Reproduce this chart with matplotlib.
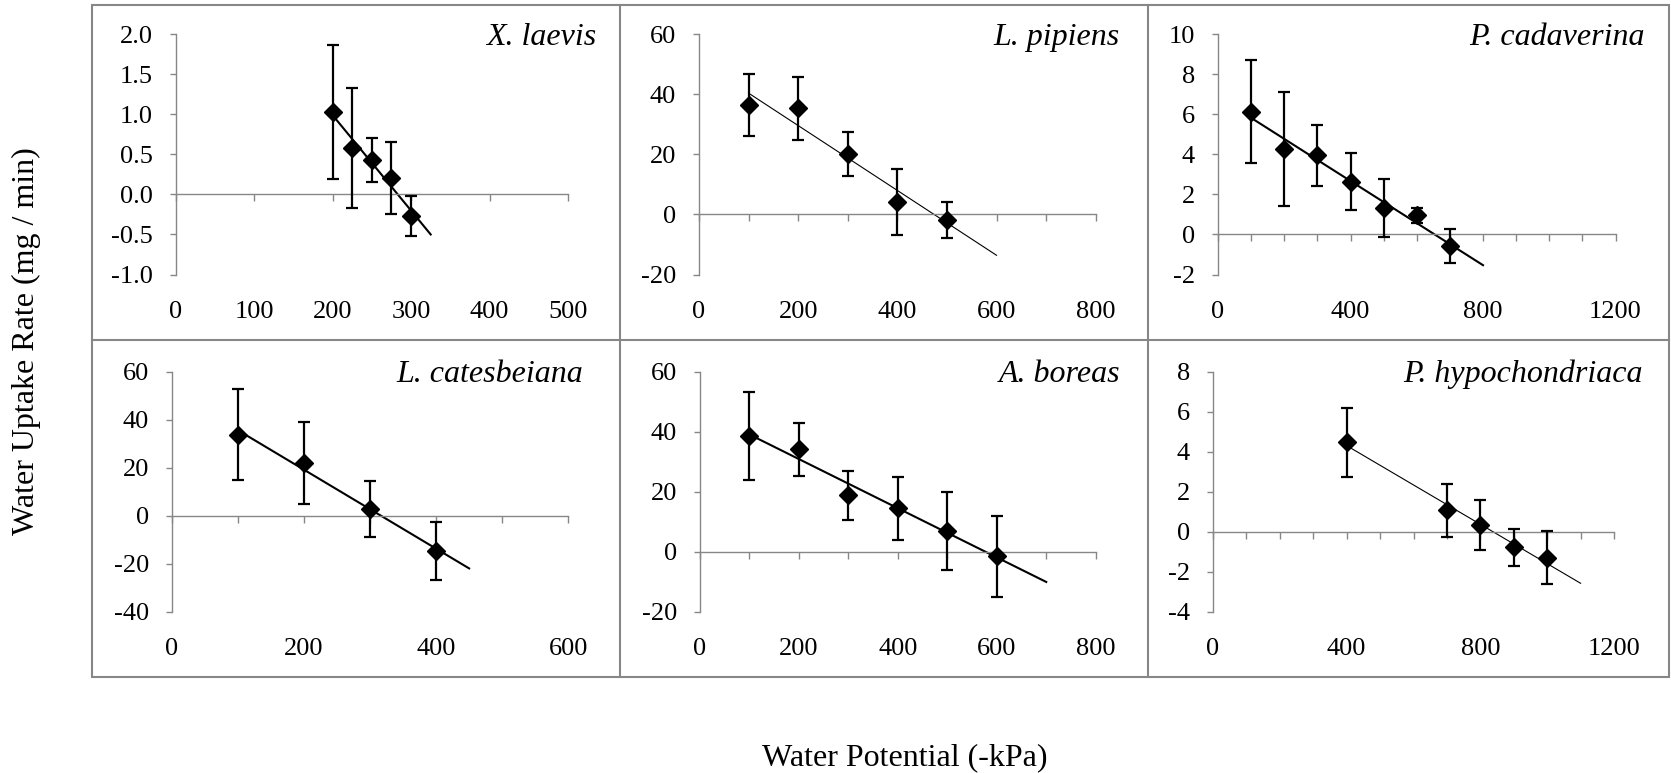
import matplotlib
matplotlib.use("Agg")
import matplotlib.pyplot as plt
from matplotlib.lines import Line2D
from matplotlib.patches import Rectangle
from matplotlib.ticker import FormatStrFormatter
import numpy as np

plt.rcParams["font.family"] = ["Liberation Serif", "DejaVu Serif"]
plt.rcParams["axes.unicode_minus"] = False

# ---- data ----
species = ["X. laevis", "L. pipiens", "P. cadaverina",
           "L. catesbeiana", "A. boreas", "P. hypochondriaca"]

xl_x = [200, 225, 250, 275, 300]
xl_y = [1.03, 0.58, 0.43, 0.20, -0.27]
xl_err = [0.84, 0.75, 0.28, 0.45, 0.25]

lp_x = [100, 200, 300, 400, 500]
lp_y = [36.4, 35.4, 20.0, 4.2, -2.0]
lp_err = [10.3, 10.5, 7.3, 11.0, 6.0]

pc_x = [100, 200, 300, 400, 500, 600, 700]
pc_y = [6.14, 4.28, 3.95, 2.64, 1.31, 0.96, -0.58]
pc_err = [2.58, 2.84, 1.52, 1.41, 1.46, 0.37, 0.85]

lc_x = [100, 200, 300, 400]
lc_y = [33.7, 22.0, 2.9, -14.8]
lc_err = [19.0, 17.1, 11.7, 12.1]

ab_x = [100, 200, 300, 400, 500, 600]
ab_y = [38.6, 34.2, 18.8, 14.5, 6.9, -1.5]
ab_err = [14.7, 8.8, 8.2, 10.5, 13.1, 13.5]

ph_x = [400, 700, 800, 900, 1000]
ph_y = [4.48, 1.08, 0.33, -0.77, -1.30]
ph_err = [1.72, 1.33, 1.24, 0.92, 1.32]

# trendline forecast end (x) for each species
trend_end = [325, 600, 800, 450, 700, 1100]

# axis ranges: (ymin, ymax, ystep), (xmax, xlabel step)
y_ranges = [(-1, 2, 0.5), (-20, 60, 20), (-2, 10, 2),
            (-40, 60, 20), (-20, 60, 20), (-4, 8, 2)]
x_ranges = [(500, 100), (800, 200), (1200, 400),
            (600, 200), (800, 200), (1200, 400)]

# ---- layout in pixels of the 1671x773 picture ----
W, H = 1671, 773
# x0, x1, ytop, ybottom of each plot area
boxes = [(175.7, 568.0, 34.3, 274.5), (699.0, 1095.7, 34.3, 274.5), (1218.0, 1615.5, 34.3, 274.5),
         (171.7, 568.3, 371.7, 611.7), (700.0, 1095.7, 371.7, 611.7), (1213.0, 1614.0, 371.7, 611.7)]
label_right = [596, 1120, 1645, 583, 1120, 1643]
trend_lw = [1.5, 0.8, 1.5, 1.5, 1.5, 0.8]
y_fmt = ["%.1f", "%d", "%d", "%d", "%d", "%d"]

GRAY = "#878787"
TICK_FS = 19
NAME_FS = 23
TITLE_FS = 23


def fx(px):
    return px / W


def fy(py):
    return 1 - py / H


def draw_panel(fig, i, x, y, err):
    x0, x1, yt, yb = boxes[i]
    ax = fig.add_axes([fx(x0), fy(yb), fx(x1) - fx(x0), fy(yt) - fy(yb)])
    ymin, ymax, ystep = y_ranges[i]
    xmax, xstep = x_ranges[i]

    ax.set_xlim(0, xmax)
    ax.set_ylim(ymin, ymax)
    ax.patch.set_visible(False)

    for s in ["top", "right"]:
        ax.spines[s].set_visible(False)
    for s in ["left", "bottom"]:
        ax.spines[s].set_color(GRAY)
        ax.spines[s].set_linewidth(1.0)
    ax.spines["bottom"].set_position(("data", 0))

    ax.set_yticks(np.arange(ymin, ymax + ystep / 2, ystep))
    ax.yaxis.set_major_formatter(FormatStrFormatter(y_fmt[i]))
    ax.tick_params(axis="y", direction="out", length=4.5, width=1.0, color=GRAY,
                   labelsize=TICK_FS, pad=12)
    ax.set_xticks(np.arange(0, xmax + 1, 100))
    ax.tick_params(axis="x", direction="out", length=5, width=1.0, color=GRAY,
                   labelbottom=False)

    # tick labels sit at the bottom of the plot area, Excel style
    sec = ax.secondary_xaxis("bottom")
    sec.set_xticks(np.arange(0, xmax + 1, xstep))
    sec.spines["bottom"].set_visible(False)
    sec.tick_params(length=0, labelsize=TICK_FS, pad=19)

    ax.errorbar(x, y, yerr=err, fmt="D", color="black", ms=9,
                elinewidth=1.6, capsize=4, capthick=1.6, zorder=3)

    fit = np.polyfit(x, y, 1)
    xs = np.array([x[0], trend_end[i]])
    ax.plot(xs, np.polyval(fit, xs), color="black", lw=trend_lw[i], zorder=2)

    fig.text(fx(label_right[i]), fy(yt + 10.5), species[i], ha="right", va="baseline",
             fontsize=NAME_FS, fontstyle="italic")
    return ax


def main():
    fig = plt.figure(figsize=(W / 100, H / 100), dpi=100)

    # outer frame and panel dividers
    left, top, right, bottom = 91.7, 5.0, 1669.0, 676.7
    fig.add_artist(Rectangle((fx(left), fy(bottom)), fx(right) - fx(left), fy(top) - fy(bottom),
                             transform=fig.transFigure, fill=False, ec=GRAY, lw=1.5))
    for xd in [620.0, 1148.3]:
        fig.add_artist(Line2D([fx(xd), fx(xd)], [fy(top), fy(bottom)],
                              transform=fig.transFigure, color=GRAY, lw=1.5))
    fig.add_artist(Line2D([fx(left), fx(right)], [fy(340.0), fy(340.0)],
                          transform=fig.transFigure, color=GRAY, lw=1.5))

    series = [(xl_x, xl_y, xl_err), (lp_x, lp_y, lp_err), (pc_x, pc_y, pc_err),
              (lc_x, lc_y, lc_err), (ab_x, ab_y, ab_err), (ph_x, ph_y, ph_err)]
    for i, (x, y, err) in enumerate(series):
        draw_panel(fig, i, x, y, err)

    fig.text(fx(26), fy(341), "Water Uptake Rate (mg / min)", rotation=90,
             ha="center", va="center", fontsize=TITLE_FS)
    fig.text(fx(905), fy(758), "Water Potential (-kPa)",
             ha="center", va="center", fontsize=TITLE_FS)

    fig.savefig("out.png", dpi=100)
    plt.close(fig)


if __name__ == "__main__":
    main()
